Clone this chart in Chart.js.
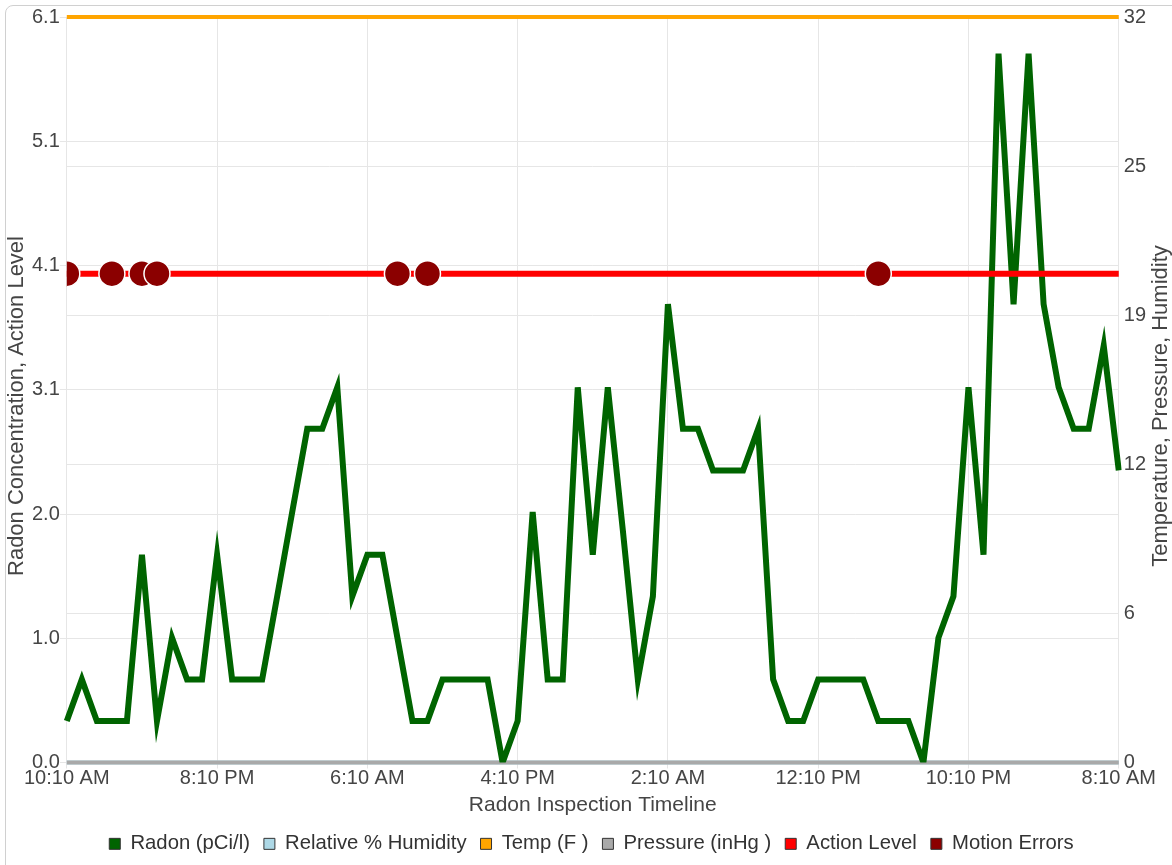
<!DOCTYPE html>
<html>
<head>
<meta charset="utf-8">
<title>Radon Inspection</title>
<script src="https://cdn.jsdelivr.net/npm/chart.js@4.4.1/dist/chart.umd.min.js"></script>
<style>
  html, body { margin: 0; padding: 0; background: #fff; overflow: hidden; }
  .card {
    position: absolute; left: 5px; top: 5px; width: 1180px; height: 900px;
    border: 1px solid #d0d0d0; border-radius: 8px;
  }
  .chart-wrap { position: absolute; left: 0; top: 0; width: 1172px; height: 865px; }
</style>
</head>
<body>
<div class="card"></div>
<div class="chart-wrap"><canvas id="radonChart"></canvas></div>
<script>
// hourly readings, 10:10 AM day 1 -> 8:10 AM day 4
const timeLabels = [
  "10:10 AM", "11:10 AM", "12:10 PM", "1:10 PM", "2:10 PM", "3:10 PM", "4:10 PM", "5:10 PM", "6:10 PM", "7:10 PM",
  "8:10 PM", "9:10 PM", "10:10 PM", "11:10 PM", "12:10 AM", "1:10 AM", "2:10 AM", "3:10 AM", "4:10 AM", "5:10 AM",
  "6:10 AM", "7:10 AM", "8:10 AM", "9:10 AM", "10:10 AM", "11:10 AM", "12:10 PM", "1:10 PM", "2:10 PM", "3:10 PM",
  "4:10 PM", "5:10 PM", "6:10 PM", "7:10 PM", "8:10 PM", "9:10 PM", "10:10 PM", "11:10 PM", "12:10 AM", "1:10 AM",
  "2:10 AM", "3:10 AM", "4:10 AM", "5:10 AM", "6:10 AM", "7:10 AM", "8:10 AM", "9:10 AM", "10:10 AM", "11:10 AM",
  "12:10 PM", "1:10 PM", "2:10 PM", "3:10 PM", "4:10 PM", "5:10 PM", "6:10 PM", "7:10 PM", "8:10 PM", "9:10 PM",
  "10:10 PM", "11:10 PM", "12:10 AM", "1:10 AM", "2:10 AM", "3:10 AM", "4:10 AM", "5:10 AM", "6:10 AM", "7:10 AM",
  "8:10 AM",
];

const radonValues = [
  0.34, 0.68, 0.34, 0.34, 0.34, 1.70, 0.34, 1.02, 0.68, 0.68,
  1.70, 0.68, 0.68, 0.68, 1.36, 2.05, 2.73, 2.73, 3.07, 1.36,
  1.70, 1.70, 1.02, 0.34, 0.34, 0.68, 0.68, 0.68, 0.68, 0.00,
  0.34, 2.05, 0.68, 0.68, 3.07, 1.70, 3.07, 1.90, 0.68, 1.36,
  3.75, 2.73, 2.73, 2.39, 2.39, 2.39, 2.73, 0.68, 0.34, 0.34,
  0.68, 0.68, 0.68, 0.68, 0.34, 0.34, 0.34, 0.00, 1.02, 1.36,
  3.07, 1.70, 5.80, 3.75, 5.80, 3.75, 3.07, 2.73, 2.73, 3.41,
  2.39,
];

const humidityValues = [
  0, 0, 0, 0, 0, 0, 0, 0, 0, 0, 0, 0, 0, 0, 0, 0, 0, 0, 0, 0, 0, 0, 0, 0, 0, 0, 0, 0, 0, 0, 0, 0, 0, 0, 0, 0,
  0, 0, 0, 0, 0, 0, 0, 0, 0, 0, 0, 0, 0, 0, 0, 0, 0, 0, 0, 0, 0, 0, 0, 0, 0, 0, 0, 0, 0, 0, 0, 0, 0, 0, 0,
];

const tempValues = [
  32, 32, 32, 32, 32, 32, 32, 32, 32, 32, 32, 32, 32, 32, 32, 32, 32, 32, 32, 32, 32, 32, 32, 32,
  32, 32, 32, 32, 32, 32, 32, 32, 32, 32, 32, 32, 32, 32, 32, 32, 32, 32, 32, 32, 32, 32, 32, 32,
  32, 32, 32, 32, 32, 32, 32, 32, 32, 32, 32, 32, 32, 32, 32, 32, 32, 32, 32, 32, 32, 32, 32,
];

const pressureValues = [
  0, 0, 0, 0, 0, 0, 0, 0, 0, 0, 0, 0, 0, 0, 0, 0, 0, 0, 0, 0, 0, 0, 0, 0, 0, 0, 0, 0, 0, 0, 0, 0, 0, 0, 0, 0,
  0, 0, 0, 0, 0, 0, 0, 0, 0, 0, 0, 0, 0, 0, 0, 0, 0, 0, 0, 0, 0, 0, 0, 0, 0, 0, 0, 0, 0, 0, 0, 0, 0, 0, 0,
];

const actionLevelValues = [
  4.0, 4.0, 4.0, 4.0, 4.0, 4.0, 4.0, 4.0, 4.0, 4.0, 4.0, 4.0, 4.0, 4.0, 4.0, 4.0, 4.0, 4.0,
  4.0, 4.0, 4.0, 4.0, 4.0, 4.0, 4.0, 4.0, 4.0, 4.0, 4.0, 4.0, 4.0, 4.0, 4.0, 4.0, 4.0, 4.0,
  4.0, 4.0, 4.0, 4.0, 4.0, 4.0, 4.0, 4.0, 4.0, 4.0, 4.0, 4.0, 4.0, 4.0, 4.0, 4.0, 4.0, 4.0,
  4.0, 4.0, 4.0, 4.0, 4.0, 4.0, 4.0, 4.0, 4.0, 4.0, 4.0, 4.0, 4.0, 4.0, 4.0, 4.0, 4.0,
];

// reading indexes flagged with a motion error, drawn on the action level
const motionErrorIndexes = [0, 3, 5, 6, 22, 24, 54];
const motionErrorLevel = 4.0;

const leftTickLabels = ["0.0", "1.0", "2.0", "3.1", "4.1", "5.1", "6.1"];
const leftMax = 6.1;
const rightTickLabels = ["0", "6", "12", "19", "25", "32"];
const rightMax = 32;
const xLabelEvery = 10;

const leftAxisTitle = "Radon Concentration, Action Level";
const rightAxisTitle = "Temperature, Pressure, Humidity";

Chart.defaults.font.family = 'Arial, "Liberation Sans", sans-serif';
Chart.defaults.font.size = 20;
Chart.defaults.color = "#454545";

const gridColor = "#e6e6e6";

function evenTicks(labels, max) {
  return (axis) => {
    const step = max / (labels.length - 1);
    axis.ticks = labels.map((_, i) => ({ value: i * step }));
  };
}

// both y titles read bottom-to-top, so they are drawn here instead of by the scales
const sideTitles = {
  id: "sideTitles",
  afterDraw(chart) {
    const { ctx } = chart;
    ctx.save();
    ctx.font = '22px Arial, "Liberation Sans", sans-serif';
    ctx.fillStyle = "#454545";
    ctx.textAlign = "center";
    ctx.textBaseline = "middle";
    [[leftAxisTitle, 17], [rightAxisTitle, 1161]].forEach(([text, x]) => {
      ctx.save();
      ctx.translate(x, 406);
      ctx.rotate(-Math.PI / 2);
      ctx.fillText(text, 0, 0);
      ctx.restore();
    });
    ctx.restore();
  },
};

const ctx = document.getElementById("radonChart");
new Chart(ctx, {
  type: "line",
  data: {
    labels: timeLabels,
    datasets: [
      {
        label: "Radon (pCi/l)",
        data: radonValues,
        yAxisID: "y",
        borderColor: "#006400",
        backgroundColor: "#006400",
        borderWidth: 6,
        pointRadius: 0,
        order: 2,
      },
      {
        label: "Relative % Humidity",
        data: humidityValues,
        yAxisID: "y1",
        borderColor: "#add8e6",
        backgroundColor: "#add8e6",
        borderWidth: 4,
        pointRadius: 0,
        clip: 4,
        order: 5,
      },
      {
        label: "Temp (F )",
        data: tempValues,
        yAxisID: "y1",
        borderColor: "#ffa500",
        backgroundColor: "#ffa500",
        borderWidth: 4,
        pointRadius: 0,
        clip: 4,
        order: 4,
      },
      {
        label: "Pressure (inHg )",
        data: pressureValues,
        yAxisID: "y1",
        borderColor: "#a9a9a9",
        backgroundColor: "#a9a9a9",
        borderWidth: 4,
        pointRadius: 0,
        clip: 4,
        order: 3,
      },
      {
        label: "Action Level",
        data: actionLevelValues,
        yAxisID: "y",
        borderColor: "#ff0000",
        backgroundColor: "#ff0000",
        borderWidth: 6,
        pointRadius: 0,
        order: 1,
      },
      {
        label: "Motion Errors",
        data: timeLabels.map((_, i) => (motionErrorIndexes.includes(i) ? motionErrorLevel : null)),
        yAxisID: "y",
        showLine: false,
        borderColor: "#8b0000",
        backgroundColor: "#8b0000",
        pointBackgroundColor: "#8b0000",
        pointBorderColor: "#ffffff",
        pointBorderWidth: 1.5,
        pointRadius: 13,
        clip: 0,
        order: 0,
      },
    ],
  },
  options: {
    responsive: true,
    maintainAspectRatio: false,
    animation: false,
    layout: { padding: { left: 32, right: 21, top: 17, bottom: 1 } },
    plugins: {
      tooltip: { enabled: false },
      legend: {
        position: "bottom",
        labels: {
          boxWidth: 11,
          boxHeight: 11,
          padding: 14,
          color: "#333",
          font: { size: 20.3 },
          sort: (a, b) => a.datasetIndex - b.datasetIndex,
          generateLabels: (chart) =>
            Chart.defaults.plugins.legend.labels.generateLabels(chart).map((item) => ({
              ...item,
              strokeStyle: "#333",
              lineWidth: 1,
            })),
        },
      },
    },
    scales: {
      x: {
        grid: { color: gridColor, tickLength: 6 },
        border: { display: false },
        afterBuildTicks: (axis) => {
          axis.ticks = axis.ticks.filter((t, i) => i % xLabelEvery === 0);
        },
        ticks: { autoSkip: false, maxRotation: 0, padding: -2 },
        title: {
          display: true,
          text: "Radon Inspection Timeline",
          font: { size: 21 },
          padding: { top: 4, bottom: 2 },
        },
      },
      y: {
        position: "left",
        min: 0,
        max: leftMax,
        grid: { color: gridColor, tickLength: 7 },
        border: { color: gridColor },
        afterBuildTicks: evenTicks(leftTickLabels, leftMax),
        ticks: { padding: 0, callback: (v, i) => leftTickLabels[i] },
      },
      y1: {
        position: "right",
        min: 0,
        max: rightMax,
        grid: { color: gridColor, drawTicks: false },
        border: { color: gridColor },
        afterBuildTicks: evenTicks(rightTickLabels, rightMax),
        ticks: { padding: 5, callback: (v, i) => rightTickLabels[i] },
      },
    },
  },
  plugins: [sideTitles],
});
</script>
</body>
</html>
